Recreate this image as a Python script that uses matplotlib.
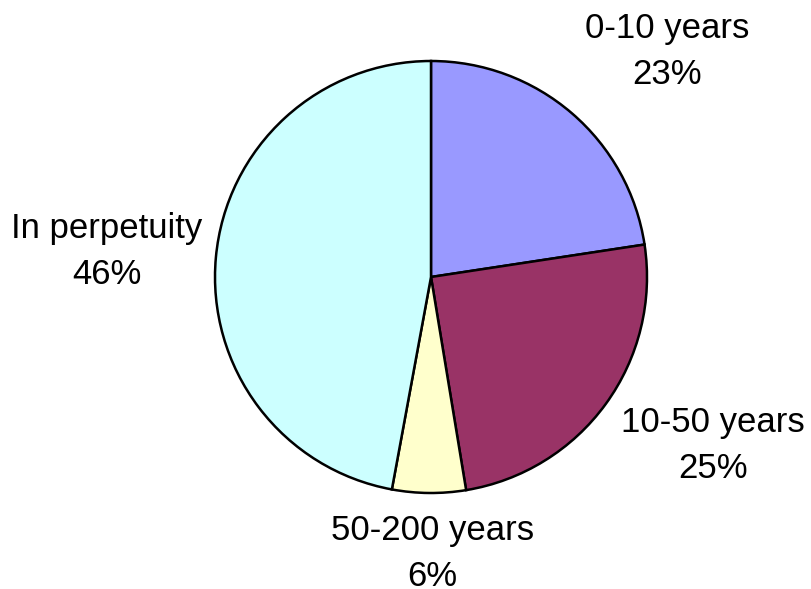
import matplotlib
matplotlib.use("Agg")
import matplotlib.pyplot as plt

categories = ["0-10 years", "10-50 years", "50-200 years", "In perpetuity"]
values = [22.6, 24.8, 5.5, 47.1]
pct_labels = ["23%", "25%", "6%", "46%"]
colors = ["#9999FF", "#993366", "#FFFFCC", "#CCFFFF"]

# label block centres (data units, pie radius = 1)
label_xy = [(1.093, 1.042), (1.306, -0.778), (0.005, -1.278), (-1.50, 0.116)]

plt.rcParams["font.family"] = ["Liberation Sans", "DejaVu Sans"]

W, H, DPI = 811, 589, 100
cx, cy, r = 431, 277, 216

fig = plt.figure(figsize=(W / DPI, H / DPI), dpi=DPI)
ax = fig.add_axes([0, 0, 1, 1])
ax.pie(values, colors=colors, startangle=90, counterclock=False, radius=1,
       center=(0, 0), wedgeprops=dict(edgecolor="black", linewidth=1.8))
ax.set_xlim(-cx / r, (W - cx) / r)
ax.set_ylim((cy - H) / r, cy / r)
ax.set_aspect("auto")
ax.axis("off")

for cat, pct, (x, y) in zip(categories, pct_labels, label_xy):
    ax.text(x, y, f"{cat}\n{pct}", ha="center", va="center", fontsize=25,
            linespacing=1.5, color="black")

fig.savefig("out.png", dpi=DPI, facecolor="white")
